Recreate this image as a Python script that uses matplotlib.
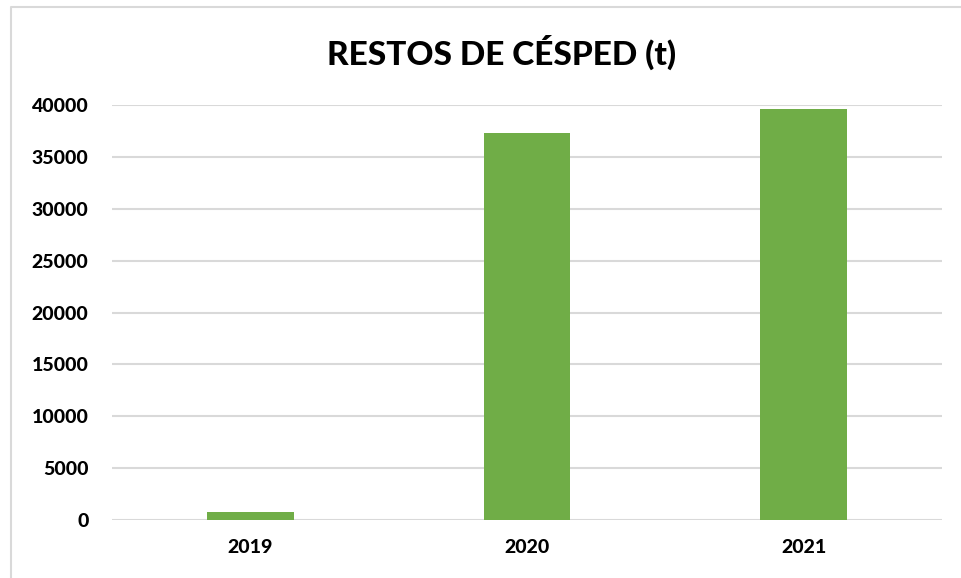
import matplotlib.pyplot as plt
from matplotlib.lines import Line2D

# Data
years = ["2019", "2020", "2021"]
tonnes = [800, 37330, 39620]
yticks = [0, 5000, 10000, 15000, 20000, 25000, 30000, 35000, 40000]

plt.rcParams["font.family"] = ["Lato", "DejaVu Sans"]

W, H = 962, 578
fig = plt.figure(figsize=(W / 100, H / 100), dpi=100)
ax = fig.add_axes([112 / W, 1 - 520 / H, (942 - 112) / W, (520 - 105) / H])

x = range(len(years))
ax.bar(x, tonnes, width=0.314, color="#70ad47", zorder=3)

ax.set_xlim(-0.5, 2.5)
ax.set_ylim(0, 40000)
ax.set_yticks(yticks)
ax.set_yticklabels([str(v) for v in yticks], fontsize=14, fontweight="black")
ax.set_xticks(list(x))
ax.set_xticklabels(years, fontsize=14, fontweight="black")
ax.tick_params(axis="both", length=0, colors="black")
ax.tick_params(axis="y", pad=17)
ax.tick_params(axis="x", pad=14)

ax.grid(axis="y", color="#d9d9d9", linewidth=1.5, zorder=0)
for s in ax.spines.values():
    s.set_visible(False)

fig.text(502 / W, 1 - 52 / H, "RESTOS DE CÉSPED (t)", ha="center", va="center",
         fontsize=24, fontweight="black")

# chart border (only top and left edges are inside the crop)
fig.add_artist(Line2D([11 / W, 11 / W, 1], [0, 1 - 7 / H, 1 - 7 / H],
                      transform=fig.transFigure, color="#d9d9d9", linewidth=1.5))

fig.savefig("out.png", dpi=100)
